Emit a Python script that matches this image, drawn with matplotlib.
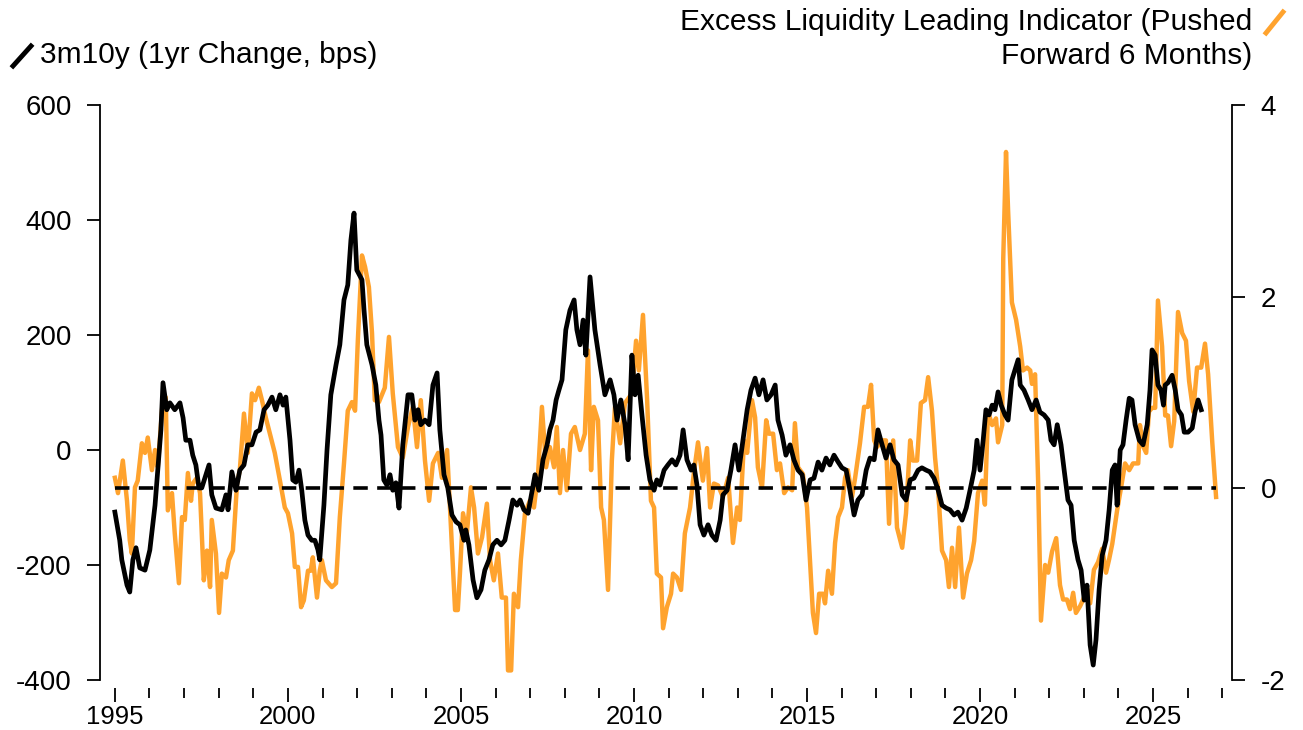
import matplotlib
matplotlib.use('Agg')
import matplotlib.pyplot as plt
from matplotlib.lines import Line2D
from matplotlib.ticker import MultipleLocator

plt.rcParams['font.family'] = ['Liberation Sans', 'DejaVu Sans']
plt.rcParams['axes.unicode_minus'] = False

# 3m10y curve, 1yr change in bps (left axis)
curve_years = [
    1995.00, 1995.14, 1995.20, 1995.35, 1995.43, 1995.52, 1995.61, 1995.72, 1995.87, 1996.01,
    1996.16, 1996.24, 1996.33, 1996.39, 1996.50, 1996.59, 1996.73, 1996.88, 1996.97, 1997.05,
    1997.17, 1997.25, 1997.34, 1997.43, 1997.51, 1997.60, 1997.72, 1997.80, 1997.92, 1998.09,
    1998.21, 1998.27, 1998.38, 1998.50, 1998.61, 1998.73, 1998.84, 1998.96, 1999.08, 1999.19,
    1999.31, 1999.42, 1999.54, 1999.65, 1999.77, 1999.86, 1999.94, 2000.06, 2000.14, 2000.23,
    2000.32, 2000.40, 2000.49, 2000.58, 2000.69, 2000.78, 2000.87, 2000.92, 2001.04, 2001.13,
    2001.24, 2001.39, 2001.50, 2001.62, 2001.73, 2001.82, 2001.91, 2001.99, 2002.14, 2002.20,
    2002.28, 2002.43, 2002.54, 2002.63, 2002.69, 2002.77, 2002.86, 2002.95, 2003.03, 2003.12,
    2003.21, 2003.32, 2003.47, 2003.58, 2003.67, 2003.76, 2003.84, 2003.96, 2004.08, 2004.19,
    2004.31, 2004.39, 2004.51, 2004.62, 2004.74, 2004.86, 2004.97, 2005.09, 2005.14, 2005.23,
    2005.35, 2005.46, 2005.58, 2005.69, 2005.81, 2005.92, 2006.04, 2006.16, 2006.27, 2006.39,
    2006.50, 2006.62, 2006.71, 2006.82, 2006.94, 2007.02, 2007.14, 2007.25, 2007.37, 2007.49,
    2007.57, 2007.66, 2007.75, 2007.83, 2007.92, 2008.03, 2008.15, 2008.27, 2008.35, 2008.44,
    2008.53, 2008.61, 2008.73, 2008.87, 2009.02, 2009.16, 2009.31, 2009.42, 2009.51, 2009.62,
    2009.74, 2009.83, 2009.94, 2010.03, 2010.12, 2010.23, 2010.35, 2010.46, 2010.58, 2010.66,
    2010.75, 2010.87, 2010.98, 2011.10, 2011.21, 2011.33, 2011.42, 2011.53, 2011.65, 2011.73,
    2011.82, 2011.91, 2012.02, 2012.14, 2012.25, 2012.37, 2012.49, 2012.57, 2012.69, 2012.80,
    2012.92, 2013.03, 2013.15, 2013.27, 2013.38, 2013.50, 2013.61, 2013.73, 2013.84, 2013.96,
    2014.08, 2014.16, 2014.28, 2014.39, 2014.51, 2014.62, 2014.74, 2014.86, 2014.97, 2015.09,
    2015.20, 2015.32, 2015.43, 2015.55, 2015.66, 2015.78, 2015.90, 2016.01, 2016.13, 2016.24,
    2016.36, 2016.47, 2016.59, 2016.71, 2016.82, 2016.94, 2017.05, 2017.17, 2017.28, 2017.40,
    2017.51, 2017.63, 2017.75, 2017.86, 2017.98, 2018.09, 2018.21, 2018.32, 2018.44, 2018.55,
    2018.67, 2018.79, 2018.90, 2019.02, 2019.13, 2019.25, 2019.36, 2019.48, 2019.60, 2019.71,
    2019.83, 2019.91, 2020.00, 2020.09, 2020.17, 2020.26, 2020.35, 2020.43, 2020.52, 2020.61,
    2020.72, 2020.81, 2020.92, 2021.10, 2021.16, 2021.27, 2021.39, 2021.50, 2021.62, 2021.73,
    2021.85, 2021.97, 2022.05, 2022.14, 2022.23, 2022.34, 2022.43, 2022.54, 2022.63, 2022.72,
    2022.83, 2022.92, 2023.01, 2023.09, 2023.18, 2023.27, 2023.35, 2023.44, 2023.53, 2023.64,
    2023.73, 2023.82, 2023.90, 2023.96, 2024.05, 2024.13, 2024.22, 2024.31, 2024.39, 2024.48,
    2024.60, 2024.71, 2024.83, 2024.91, 2024.97, 2025.06, 2025.14, 2025.23, 2025.30, 2025.35,
    2025.43, 2025.55, 2025.64, 2025.72, 2025.82, 2025.90, 2026.01, 2026.13, 2026.21, 2026.30,
    2026.39,
]
curve_bps = [
    -108, -157, -191, -235, -247, -191, -170, -205, -209, -174,
    -96, -35, 35, 117, 70, 82, 70, 82, 56, 17,
    17, -9, -26, -66, -66, -49, -26, -78, -101, -104,
    -78, -104, -38, -70, -35, -26, 9, 9, 31, 35,
    70, 78, 92, 70, 96, 78, 92, 17, -52, -56,
    -35, -70, -122, -148, -157, -157, -174, -191, -96, 0,
    96, 148, 183, 261, 287, 365, 412, 313, 296, 243,
    183, 148, 113, 52, 26, -52, -61, -43, -70, -57,
    -101, 9, 96, 96, 52, 70, 44, 52, 44, 113,
    134, 35, -43, -66, -113, -125, -130, -157, -139, -165,
    -226, -257, -243, -209, -191, -165, -157, -165, -157, -122,
    -87, -96, -87, -104, -110, -83, -43, -70, -17, 9,
    35, 52, 87, 104, 122, 209, 243, 261, 209, 183,
    226, 165, 301, 209, 148, 96, 122, 96, 52, 87,
    44, -17, 165, 96, 130, 61, -9, -52, -70, -52,
    -61, -35, -26, -17, -26, -9, 35, -17, -35, -26,
    -61, -130, -148, -130, -148, -157, -122, -78, -70, -35,
    9, -35, 17, 70, 104, 125, 96, 122, 87, 96,
    113, 52, 26, -9, 9, -17, -35, -43, -87, -52,
    -49, -21, -35, -14, -26, -9, -21, -31, -35, -70,
    -113, -87, -78, -35, -14, -17, 35, 9, -14, 9,
    -17, -26, -78, -87, -52, -49, -35, -31, -35, -38,
    -49, -70, -96, -101, -104, -113, -108, -122, -101, -70,
    -35, 17, -35, 17, 70, 61, 78, 70, 101, 78,
    61, 52, 122, 157, 113, 104, 87, 70, 87, 66,
    61, 52, 17, 9, 44, 9, -35, -87, -96, -157,
    -191, -209, -261, -235, -339, -374, -330, -243, -183, -157,
    -104, -35, -26, -96, 0, 9, 52, 90, 87, 44,
    17, 9, 44, 104, 174, 165, 113, 104, 78, 113,
    117, 130, 104, 70, 61, 31, 31, 38, 66, 87,
    70,
]

# Excess liquidity leading indicator, pushed forward 6 months (right axis)
liq_years = [
    1995.00, 1995.09, 1995.23, 1995.35, 1995.43, 1995.49, 1995.58, 1995.66, 1995.78, 1995.87,
    1995.95, 1996.07, 1996.16, 1996.24, 1996.39, 1996.47, 1996.53, 1996.65, 1996.73, 1996.85,
    1996.94, 1997.02, 1997.11, 1997.20, 1997.25, 1997.37, 1997.46, 1997.57, 1997.66, 1997.75,
    1997.80, 1997.92, 1998.01, 1998.09, 1998.21, 1998.29, 1998.41, 1998.53, 1998.61, 1998.73,
    1998.84, 1998.96, 1999.05, 1999.16, 1999.25, 1999.36, 1999.48, 1999.62, 1999.77, 1999.91,
    2000.00, 2000.12, 2000.20, 2000.29, 2000.38, 2000.46, 2000.58, 2000.66, 2000.72, 2000.84,
    2000.92, 2000.98, 2001.10, 2001.27, 2001.39, 2001.50, 2001.62, 2001.73, 2001.85, 2001.94,
    2002.02, 2002.14, 2002.23, 2002.34, 2002.43, 2002.51, 2002.63, 2002.80, 2002.92, 2003.03,
    2003.18, 2003.32, 2003.47, 2003.61, 2003.73, 2003.84, 2003.96, 2004.08, 2004.19, 2004.34,
    2004.45, 2004.60, 2004.71, 2004.83, 2004.91, 2004.97, 2005.06, 2005.17, 2005.29, 2005.38,
    2005.49, 2005.61, 2005.75, 2005.84, 2005.95, 2006.07, 2006.18, 2006.30, 2006.36, 2006.45,
    2006.53, 2006.65, 2006.73, 2006.85, 2006.99, 2007.11, 2007.23, 2007.34, 2007.46, 2007.57,
    2007.69, 2007.77, 2007.86, 2007.95, 2008.06, 2008.18, 2008.29, 2008.44, 2008.58, 2008.67,
    2008.76, 2008.84, 2008.96, 2009.05, 2009.13, 2009.25, 2009.36, 2009.45, 2009.60, 2009.74,
    2009.94, 2010.06, 2010.14, 2010.26, 2010.38, 2010.49, 2010.58, 2010.66, 2010.78, 2010.84,
    2010.95, 2011.07, 2011.13, 2011.24, 2011.36, 2011.47, 2011.62, 2011.73, 2011.85, 2011.99,
    2012.11, 2012.20, 2012.31, 2012.43, 2012.57, 2012.72, 2012.86, 2012.98, 2013.06, 2013.18,
    2013.27, 2013.41, 2013.50, 2013.58, 2013.70, 2013.82, 2013.90, 2014.02, 2014.13, 2014.22,
    2014.34, 2014.45, 2014.57, 2014.65, 2014.74, 2014.88, 2015.00, 2015.09, 2015.17, 2015.26,
    2015.35, 2015.46, 2015.52, 2015.61, 2015.72, 2015.81, 2015.90, 2016.01, 2016.10, 2016.18,
    2016.30, 2016.39, 2016.53, 2016.65, 2016.76, 2016.85, 2016.94, 2017.02, 2017.17, 2017.28,
    2017.37, 2017.49, 2017.60, 2017.75, 2017.86, 2017.98, 2018.06, 2018.18, 2018.29, 2018.41,
    2018.50, 2018.61, 2018.70, 2018.79, 2018.90, 2019.02, 2019.10, 2019.19, 2019.28, 2019.39,
    2019.51, 2019.62, 2019.74, 2019.83, 2019.94, 2020.06, 2020.14, 2020.23, 2020.35, 2020.46,
    2020.52, 2020.64, 2020.67, 2020.75, 2020.81, 2020.92, 2021.04, 2021.16, 2021.24, 2021.36,
    2021.45, 2021.50, 2021.59, 2021.68, 2021.76, 2021.88, 2021.97, 2022.08, 2022.20, 2022.31,
    2022.40, 2022.51, 2022.60, 2022.69, 2022.77, 2022.89, 2022.98, 2023.09, 2023.18, 2023.29,
    2023.41, 2023.53, 2023.64, 2023.73, 2023.82, 2023.96, 2024.08, 2024.19, 2024.31, 2024.42,
    2024.57, 2024.62, 2024.71, 2024.80, 2024.88, 2024.97, 2025.06, 2025.14, 2025.26, 2025.35,
    2025.43, 2025.52, 2025.61, 2025.72, 2025.84, 2025.95, 2026.04, 2026.16, 2026.27, 2026.39,
    2026.50, 2026.59, 2026.71, 2026.82,
]
liq_values = [
    0.11, -0.05, 0.29, -0.13, -0.54, -0.68, 0.01, 0.08, 0.47, 0.37,
    0.53, 0.19, 0.40, 0.22, 0.95, 0.95, -0.23, -0.05, -0.47, -0.99,
    -0.30, -0.33, 0.16, -0.13, 0.05, 0.11, -0.05, -0.96, -0.65, -1.03,
    -0.33, -0.68, -1.30, -0.89, -0.93, -0.75, -0.65, 0.05, 0.19, 0.78,
    0.37, 0.99, 0.92, 1.05, 0.92, 0.74, 0.57, 0.37, 0.08, -0.20,
    -0.26, -0.47, -0.82, -0.82, -1.24, -1.17, -0.86, -0.86, -0.72, -1.14,
    -0.86, -0.75, -0.96, -1.03, -0.99, -0.30, 0.26, 0.81, 0.90, 0.81,
    1.54, 2.43, 2.31, 2.10, 1.62, 0.92, 0.90, 1.05, 1.58, 0.99,
    0.43, 0.32, 0.64, 0.85, 0.43, 0.92, 0.29, -0.13, 0.26, 0.37,
    0.11, 0.40, -0.41, -1.27, -1.27, -0.89, -0.26, -0.47, 0.01, -0.20,
    -0.68, -0.51, -0.16, -0.75, -0.96, -0.68, -1.14, -1.14, -1.90, -1.90,
    -1.10, -1.24, -0.75, -0.26, -0.13, -0.20, 0.16, 0.85, 0.22, 0.43,
    0.22, 0.64, -0.05, 0.40, -0.02, 0.57, 0.64, 0.40, 0.57, 1.44,
    0.19, 0.85, 0.71, -0.20, -0.33, -1.06, 0.29, 0.85, 0.47, 0.89,
    0.99, 1.54, 1.23, 1.81, 0.92, -0.13, -0.20, -0.89, -0.93, -1.46,
    -1.24, -1.10, -0.89, -0.93, -1.06, -0.47, -0.20, 0.16, 0.48, 0.08,
    0.42, -0.20, 0.05, 0.03, -0.09, 0.11, -0.57, -0.20, -0.33, 0.50,
    0.37, 0.92, 0.74, 0.22, 0.01, 0.71, 0.57, 0.57, 0.19, 0.26,
    -0.05, 0.01, -0.02, 0.68, 0.22, 0.15, -0.20, -0.78, -1.30, -1.51,
    -1.10, -1.10, -1.20, -0.86, -1.10, -0.57, -0.30, -0.20, 0.11, 0.19,
    -0.09, 0.11, 0.47, 0.85, 0.85, 1.08, 0.50, 0.43, 0.50, 0.50,
    -0.37, 0.50, -0.41, -0.62, -0.26, 0.50, 0.29, 0.29, 0.89, 0.92,
    1.16, 0.81, 0.32, -0.02, -0.65, -0.75, -1.03, -0.62, -1.03, -0.41,
    -1.14, -0.89, -0.75, -0.55, -0.05, 0.08, -0.17, 0.80, 0.66, 0.73,
    0.48, 0.66, 2.40, 3.51, 2.90, 1.94, 1.76, 1.48, 1.23, 1.26,
    1.23, 1.09, 1.19, 0.05, -1.38, -0.80, -0.88, -0.66, -0.52, -1.01,
    -1.16, -1.16, -1.26, -1.09, -1.30, -1.23, -1.16, -1.05, -1.20, -0.85,
    -0.77, -0.63, -0.88, -0.74, -0.58, -0.23, 0.02, 0.26, 0.19, 0.26,
    0.26, 0.66, 0.44, 0.37, 0.80, 0.84, 0.84, 1.96, 1.48, 0.76,
    0.76, 0.44, 0.70, 1.84, 1.62, 1.54, 1.12, 0.80, 1.26, 1.26,
    1.51, 1.19, 0.48, -0.09,
]

left_ticks = [-400, -200, 0, 200, 400, 600]
right_ticks = [-2, 0, 2, 4]
year_ticks = [1995, 2000, 2005, 2010, 2015, 2020, 2025]

ORANGE = '#FFA32E'
W, H = 1303, 730
fig = plt.figure(figsize=(W / 100, H / 100), dpi=100)
ax = fig.add_axes([100 / W, 50 / H, 1132 / W, 575 / H])
ax2 = ax.twinx()

# black line drawn above the orange one
ax.set_zorder(ax2.get_zorder() + 1)
ax.patch.set_visible(False)

ax2.plot(liq_years, liq_values, color=ORANGE, lw=3.2)
ax.plot(curve_years, curve_bps, color='black', lw=3.4)
ax2.hlines(0, liq_years[0], liq_years[-1], colors='black', lw=2.6,
           linestyles=(0, (4, 2.6)), zorder=5)

ax.set_xlim(1994.57, 2027.28)
ax.set_ylim(-400, 600)
ax2.set_ylim(-2, 4)
ax.set_yticks(left_ticks)
ax2.set_yticks(right_ticks)
ax.set_xticks(year_ticks)
ax.xaxis.set_minor_locator(MultipleLocator(1))

for s in ['top', 'bottom', 'right']:
    ax.spines[s].set_visible(False)
for s in ['top', 'bottom', 'left']:
    ax2.spines[s].set_visible(False)
ax.spines['left'].set_linewidth(1.3)
ax2.spines['right'].set_linewidth(1.3)
ax.spines['bottom'].set_position(('outward', 6))

ax.tick_params(axis='y', length=9.5, width=1.3, pad=11, labelsize=20)
ax2.tick_params(axis='y', length=9.5, width=1.3, pad=11, labelsize=20)
ax.tick_params(axis='x', which='major', length=10, width=1.3, pad=2, labelsize=18.5)
ax.tick_params(axis='x', which='minor', length=7, width=1.3)

# legend entries as header text with slash markers
fig.text(40 / W, 1 - 55 / H, '3m10y (1yr Change, bps)', fontsize=21.5,
         ha='left', va='center')
fig.add_artist(Line2D([13 / W, 31 / W], [1 - 66 / H, 1 - 46 / H],
                      transform=fig.transFigure, color='black', lw=3.5))
fig.text(1252 / W, 1 - 22 / H, 'Excess Liquidity Leading Indicator (Pushed',
         fontsize=21.5, ha='right', va='center')
fig.text(1252 / W, 1 - 56 / H, 'Forward 6 Months)', fontsize=21.5,
         ha='right', va='center')
fig.add_artist(Line2D([1266 / W, 1283 / W], [1 - 33 / H, 1 - 12 / H],
                      transform=fig.transFigure, color=ORANGE, lw=3.5))

fig.savefig('out.png', dpi=100)
